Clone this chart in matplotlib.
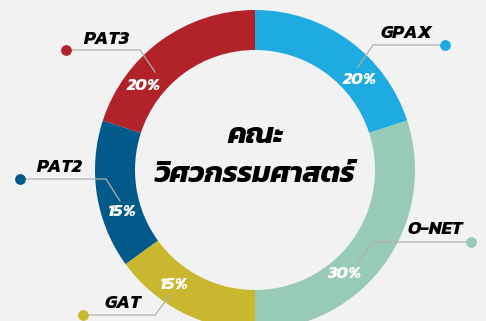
import matplotlib
matplotlib.use('Agg')
import matplotlib.pyplot as plt

plt.rcParams['font.family'] = ['Kanit', 'DejaVu Sans']

# สัดส่วนองค์ประกอบการคัดเลือก
subjects = ['GPAX', 'O-NET', 'GAT', 'PAT2', 'PAT3']
percents = [20, 30, 15, 15, 20]
colors = ['#1eabe2', '#97cbb5', '#c8b72f', '#015a89', '#b22229']
title_lines = ['คณะ', 'วิศวกรรมศาสตร์']

W, H = 486, 321
CX, CY = 255, 170   # จุดศูนย์กลางวง (พิกเซลจากมุมซ้ายบน)


def y(py):
    # แปลงพิกัดพิกเซลจากด้านบนเป็นแกน y ปกติ
    return H - py


# ตำแหน่งป้ายชื่อ จุด และเส้นโยง (พิกเซล)
pct_pos = {'GPAX': (360, 80), 'O-NET': (345, 274), 'GAT': (174, 285),
           'PAT2': (122, 212), 'PAT3': (144, 86)}
name_pos = {'GPAX': (406, 33), 'O-NET': (435, 230), 'GAT': (123, 303),
            'PAT2': (59, 167), 'PAT3': (106, 39)}
leaders = {'GPAX': [(358, 67), (373, 45), (445, 45)],
           'O-NET': [(358, 262), (373, 242), (471, 242)],
           'GAT': [(170, 295), (155, 315), (83, 315)],
           'PAT2': [(120, 201), (106, 179), (20, 179)],
           'PAT3': [(155, 72), (140, 50), (66, 50)]}

fig = plt.figure(figsize=(W / 100, H / 100), dpi=100, facecolor='#f2f2f2')
ax = fig.add_axes([0, 0, 1, 1])
ax.set_facecolor('#f2f2f2')

ax.pie(percents, colors=colors, radius=160, center=(CX, y(CY)),
       startangle=90, counterclock=False,
       wedgeprops=dict(width=40, linewidth=0))

for name, pct, col in zip(subjects, percents, colors):
    pts = leaders[name]
    ax.plot([p[0] for p in pts], [y(p[1]) for p in pts], color='#b0b0b0', lw=0.9, zorder=3)
    ax.scatter(pts[-1][0], y(pts[-1][1]), s=60, color=col, zorder=4, linewidths=0)
    px, py = pct_pos[name]
    ax.text(px, y(py), f'{pct}%', color='white', fontsize=12.5, fontweight='bold',
            fontstyle='italic', ha='center', va='center', zorder=5)
    nx, ny = name_pos[name]
    ax.text(nx, y(ny), name, color='black', fontsize=13.5, fontweight='bold',
            fontstyle='italic', ha='center', va='center', zorder=5)

ax.text(CX, y(136), title_lines[0], fontsize=21, fontweight='bold', fontstyle='italic',
        ha='center', va='center')
ax.text(CX, y(175), title_lines[1], fontsize=21, fontweight='bold', fontstyle='italic',
        ha='center', va='center')

ax.set_xlim(0, W)
ax.set_ylim(0, H)
ax.set_aspect('auto')
ax.axis('off')

plt.savefig('out.png', dpi=100, facecolor=fig.get_facecolor())
